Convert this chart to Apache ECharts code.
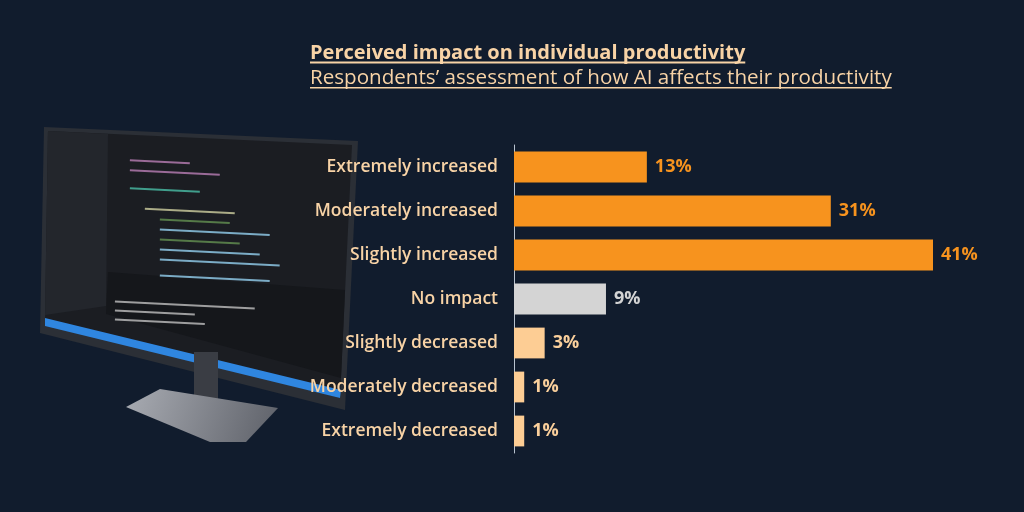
<!DOCTYPE html>
<html>
<head>
<meta charset="utf-8">
<title>Perceived impact on individual productivity</title>
<script src="https://cdn.jsdelivr.net/npm/echarts@6/dist/echarts.min.js"></script>
<style>
  html, body { margin: 0; padding: 0; background: #111c2d; }
  #chart { width: 1024px; height: 512px; }
</style>
</head>
<body>
<div id="chart"></div>
<script>
// answer categories, top to bottom as shown
const categories = [
    'Extremely increased',
    'Moderately increased',
    'Slightly increased',
    'No impact',
    'Slightly decreased',
    'Moderately decreased',
    'Extremely decreased'
];
// share of respondents (%)
const shares = [13, 31, 41, 9, 3, 1, 1];
// which group each answer belongs to
const groups = ['up', 'up', 'up', 'none', 'down', 'down', 'down'];

const titleText = 'Perceived impact on individual productivity';
const subtitleText = 'Respondents\u2019 assessment of how AI affects their productivity';

const FONT = '"Open Sans", "Noto Sans", sans-serif';
const PEACH = '#f8d3a6';
const barColors = { up: '#f7931e', none: '#d4d4d4', down: '#fdcd94' };
const labelColors = { up: '#f7931e', none: '#d4d4d4', down: '#fbd09c' };

// measure text so the underline fits the title
function textWidth(str, font) {
    const ctx = document.createElement('canvas').getContext('2d');
    ctx.font = font;
    return ctx.measureText(str).width;
}

const titleFont = '700 20px ' + FONT;
const subFont = '400 20.6px ' + FONT;
const tW = textWidth(titleText, titleFont);
const sW = textWidth(subtitleText, subFont);
const TX = 310;

// simple drawing of a monitor on the left (decoration only)
const monitor = [
    // frame
    { type: 'polygon', shape: { points: [[44, 127], [358, 141], [345, 410], [40, 333]] },
      style: { fill: '#2b2f36' } },
    // screen
    { type: 'polygon', shape: { points: [[48, 131], [352, 145], [340, 398], [45, 322]] },
      style: { fill: '#1b1d22' } },
    // sidebar
    { type: 'polygon', shape: { points: [[48, 131], [108, 134], [106, 306], [45, 315]] },
      style: { fill: '#23262c' } },
    // terminal panel
    { type: 'polygon', shape: { points: [[108, 272], [345, 290], [341, 378], [106, 314]] },
      style: { fill: '#15171b' } },
    // blue status strip
    { type: 'polygon', shape: { points: [[45, 318], [341, 390], [340, 398], [45, 326]] },
      style: { fill: '#2f86e0' } },
    // neck
    { type: 'rect', shape: { x: 194, y: 352, width: 24, height: 50 },
      style: { fill: '#3a3d44' } },
    // base
    { type: 'polygon', shape: { points: [[126, 407], [160, 389], [278, 408], [246, 442], [210, 442]] },
      style: { fill: new echarts.graphic.LinearGradient(0, 0, 1, 1, [
          { offset: 0, color: '#a9acb3' }, { offset: 1, color: '#5d6068' }
      ]) } }
];
// a few lines of "code" on the screen
const codeLines = [
    [130, 158, 60, '#c586c0'], [130, 168, 90, '#c586c0'], [130, 186, 70, '#4ec9b0'],
    [145, 206, 90, '#dcdcaa'], [160, 216, 70, '#6a9955'], [160, 226, 110, '#9cdcfe'],
    [160, 236, 80, '#6a9955'], [160, 246, 100, '#9cdcfe'], [160, 256, 120, '#9cdcfe'],
    [160, 272, 110, '#9cdcfe'], [115, 300, 140, '#cccccc'], [115, 309, 80, '#cccccc'],
    [115, 318, 90, '#cccccc']
];
codeLines.forEach(function (c) {
    monitor.push({
        type: 'rect',
        shape: { x: c[0], y: c[1] + (c[0] - 100) * 0.04, width: c[2], height: 2 },
        rotation: -0.05,
        originX: c[0], originY: c[1],
        style: { fill: c[3], opacity: 0.75 }
    });
});

const chart = echarts.init(document.getElementById('chart'));

const option = {
    backgroundColor: '#111c2d',
    animation: false,
    grid: {
        left: 514,
        right: 91,
        top: 145,
        bottom: 59
    },
    xAxis: {
        type: 'value',
        min: 0,
        max: 41,
        show: false
    },
    yAxis: {
        type: 'category',
        data: categories,
        inverse: true,
        axisLine: { show: true, lineStyle: { color: '#b9c3cf', width: 1 } },
        axisTick: { show: false },
        axisLabel: {
            color: PEACH,
            fontFamily: FONT,
            fontWeight: 600,
            fontSize: 17.5,
            margin: 16,
            padding: [4, 0, 0, 0]
        }
    },
    series: [{
        type: 'bar',
        barWidth: '70%',
        data: shares.map(function (v, i) {
            return {
                value: v,
                itemStyle: { color: barColors[groups[i]] },
                label: { color: labelColors[groups[i]] }
            };
        }),
        label: {
            show: true,
            position: 'right',
            distance: 8,
            fontFamily: FONT,
            fontWeight: 700,
            fontSize: 18,
            padding: [5, 0, 0, 0],
            formatter: '{c}%'
        }
    }],
    graphic: monitor.concat([
        { type: 'text', x: TX, y: 53.5,
          style: { text: titleText, font: titleFont, fill: PEACH, verticalAlign: 'middle' } },
        { type: 'rect', shape: { x: TX, y: 61.5, width: tW, height: 2 },
          style: { fill: PEACH } },
        { type: 'text', x: TX, y: 78,
          style: { text: subtitleText, font: subFont, fill: PEACH, verticalAlign: 'middle' } },
        { type: 'rect', shape: { x: TX, y: 87, width: sW, height: 1.5 },
          style: { fill: PEACH } }
    ])
};

chart.setOption(option);
</script>
</body>
</html>
